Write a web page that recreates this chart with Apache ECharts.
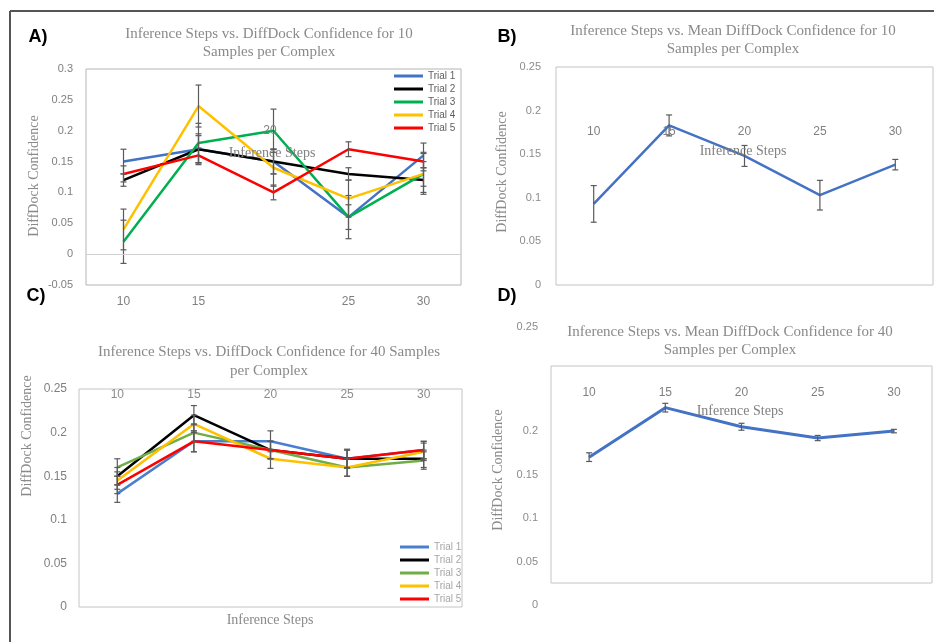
<!DOCTYPE html>
<html><head><meta charset="utf-8">
<script src="https://cdn.jsdelivr.net/npm/echarts@6/dist/echarts.min.js"></script>
<style>html,body{margin:0;padding:0;background:#fff}#c{width:934px;height:642px}</style>
</head><body><div id="c"></div>
<script>
// ---------- data ----------
const steps = ['10', '15', '20', '25', '30'];
const trialNames = ['Trial 1', 'Trial 2', 'Trial 3', 'Trial 4', 'Trial 5'];

// Panel A: 10 samples per complex, per trial
const aTrial1 = [0.15, 0.17, 0.15, 0.06, 0.16];
const aTrial2 = [0.12, 0.17, 0.15, 0.13, 0.12];
const aTrial3 = [0.02, 0.18, 0.20, 0.06, 0.13];
const aTrial4 = [0.04, 0.24, 0.14, 0.09, 0.13];
const aTrial5 = [0.13, 0.16, 0.10, 0.17, 0.15];
const aErr1 = [0.020, 0.022, 0.020, 0.020, 0.020];
const aErr2 = [0.010, 0.025, 0.020, 0.010, 0.020];
const aErr3 = [0.035, 0.032, 0.035, 0.035, 0.033];
const aErr4 = [0.033, 0.034, 0.030, 0.030, 0.020];
const aErr5 = [0.013, 0.012, 0.012, 0.012, 0.015];

// Panel B: mean, 10 samples per complex
const bMean = [0.093, 0.183, 0.148, 0.103, 0.138];
const bErr  = [0.021, 0.012, 0.012, 0.017, 0.006];

// Panel C: 40 samples per complex, per trial
const cTrial1 = [0.13, 0.19, 0.19, 0.17, 0.18];
const cTrial2 = [0.15, 0.22, 0.18, 0.17, 0.17];
const cTrial3 = [0.16, 0.20, 0.18, 0.16, 0.168];
const cTrial4 = [0.145, 0.21, 0.17, 0.16, 0.178];
const cTrial5 = [0.14, 0.19, 0.18, 0.17, 0.18];
const cErr1 = [0.010, 0.012, 0.012, 0.010, 0.010];
const cErr2 = [0.010, 0.011, 0.010, 0.010, 0.010];
const cErr3 = [0.010, 0.010, 0.010, 0.010, 0.010];
const cErr4 = [0.010, 0.010, 0.011, 0.010, 0.010];
const cErr5 = [0.010, 0.012, 0.010, 0.011, 0.010];

// Panel D: mean, 40 samples per complex
const dMean = [0.145, 0.202, 0.180, 0.167, 0.175];
const dErr  = [0.005, 0.005, 0.004, 0.003, 0.002];

// ---------- styling ----------
const colorsA = ['#4472C4', '#000000', '#00B050', '#FFC000', '#FF0000'];
const colorsC = ['#4a7fd0', '#000000', '#70AD47', '#FFC000', '#FF0000'];
const GRAY = '#7f7f7f';
const TITLE_GRAY = '#8a8a8a';
const SERIF = '"Liberation Serif", "DejaVu Serif", serif';
const SANS = '"Liberation Sans", Arial, sans-serif';

function lineSeries(name, data, gi, color, width) {
  return {
    type: 'line', name: name, data: data, xAxisIndex: gi, yAxisIndex: gi,
    symbol: 'none', z: 2, animation: false,
    lineStyle: { color: color, width: width }, itemStyle: { color: color }
  };
}
function renderErr(params, api) {
  const i = api.value(0);
  const top = api.coord([i, api.value(2)]);
  const bot = api.coord([i, api.value(1)]);
  const w = 3;
  const st = { stroke: '#5a5a5a', lineWidth: 1.2 };
  return {
    type: 'group', children: [
      { type: 'line', shape: { x1: top[0], y1: top[1], x2: bot[0], y2: bot[1] }, style: st },
      { type: 'line', shape: { x1: top[0] - w, y1: top[1], x2: top[0] + w, y2: top[1] }, style: st },
      { type: 'line', shape: { x1: bot[0] - w, y1: bot[1], x2: bot[0] + w, y2: bot[1] }, style: st }
    ]
  };
}
function errSeries(means, errs, gi) {
  const data = [];
  means.forEach(function (m, t) {
    m.forEach(function (v, i) { data.push([i, v - errs[t][i], v + errs[t][i]]); });
  });
  return {
    type: 'custom', xAxisIndex: gi, yAxisIndex: gi, z: 3, silent: true, animation: false,
    renderItem: renderErr, encode: { x: 0, y: [1, 2] }, data: data
  };
}
function yAxisBase(gi, min, max, margin) {
  return {
    type: 'value', gridIndex: gi, min: min, max: max, interval: 0.05,
    axisLine: { show: false }, axisTick: { show: false }, splitLine: { show: false },
    axisLabel: { color: GRAY, fontSize: 11, fontFamily: SANS, margin: margin }
  };
}
function xAxisBase(gi) {
  return {
    type: 'category', gridIndex: gi, data: steps, boundaryGap: true,
    axisLine: { show: false }, axisTick: { show: false }, splitLine: { show: false },
    axisLabel: { color: GRAY, fontSize: 12, fontFamily: SANS, interval: 0 }
  };
}
function legendFor(left, top, colors, textColor) {
  return {
    orient: 'vertical', left: left, top: top, padding: 0,
    itemWidth: 29, itemHeight: 3, itemGap: 2, icon: 'rect', selectedMode: false,
    textStyle: { fontSize: 10, lineHeight: 11, color: textColor, fontFamily: SANS },
    data: trialNames.map(function (n, i) { return { name: n, itemStyle: { color: colors[i] } }; })
  };
}
function txt(text, x, y, font, fill, extra) {
  const s = { text: text, x: 0, y: 0, font: font, fill: fill, align: 'center', verticalAlign: 'middle', textAlign: 'center', textVerticalAlign: 'middle' };
  if (extra && extra.lineHeight) s.lineHeight = extra.lineHeight;
  const el = { type: 'text', x: x, y: y, style: s, z: 10, silent: true };
  if (extra && extra.rotation) el.rotation = extra.rotation;
  return el;
}

// ---------- axes ----------
const xA = xAxisBase(0);
xA.axisLabel.margin = 11;
xA.axisLabel.formatter = function (v) { return v === '20' ? '' : v; };

const xB = xAxisBase(1);
xB.position = 'top'; xB.axisLabel.inside = true; xB.axisLabel.margin = 59;

const xC = xAxisBase(2);
xC.position = 'top'; xC.axisLabel.inside = true; xC.axisLabel.margin = 0;
xC.axisLabel.color = '#8c8c8c';

const xD = xAxisBase(3);
xD.position = 'top'; xD.axisLabel.inside = true; xD.axisLabel.margin = 21;

const yA = yAxisBase(0, -0.05, 0.3, 13);
const yB = yAxisBase(1, 0, 0.25, 15);
yB.axisLabel.color = '#8c8c8c';
const yC = yAxisBase(2, 0, 0.25, 12);
yC.axisLabel.fontSize = 12;
const yD = yAxisBase(3, 0, 0.25, 13);
yD.axisLabel.formatter = function (v) {
  const s = String(+v.toFixed(2));
  return v > 0.249 ? '{up|' + s + '}' : '{dn|' + s + '}';
};
yD.axisLabel.rich = {
  dn: { padding: [44, 0, 0, 0], color: '#8c8c8c', fontSize: 11, fontFamily: SANS },
  up: { padding: [0, 0, 78, 0], color: '#8c8c8c', fontSize: 11, fontFamily: SANS }
};

// ---------- series ----------
const aTrials = [aTrial1, aTrial2, aTrial3, aTrial4, aTrial5];
const aErrs = [aErr1, aErr2, aErr3, aErr4, aErr5];
const cTrials = [cTrial1, cTrial2, cTrial3, cTrial4, cTrial5];
const cErrs = [cErr1, cErr2, cErr3, cErr4, cErr5];

const series = [];
aTrials.forEach(function (d, i) { series.push(lineSeries(trialNames[i], d, 0, colorsA[i], 2.5)); });
series[0].markLine = {
  silent: true, symbol: 'none', animation: false, label: { show: false },
  lineStyle: { color: '#d0d0d0', width: 1, type: 'solid' }, data: [{ yAxis: 0 }]
};
series.push(errSeries(aTrials, aErrs, 0));
series.push(lineSeries('Mean 10', bMean, 1, '#4472C4', 2.5));
series.push(errSeries([bMean], [bErr], 1));
cTrials.forEach(function (d, i) { series.push(lineSeries(trialNames[i], d, 2, colorsC[i], 2.5)); });
series.push(errSeries(cTrials, cErrs, 2));
series.push(lineSeries('Mean 40', dMean, 3, '#4472C4', 3));
series.push(errSeries([dMean], [dErr], 3));

const titleFont = '15px ' + SERIF;
const nameFont = '14px ' + SERIF;
const labelFont = 'bold 18px ' + SANS;

const option = {
  animation: false,
  backgroundColor: '#fff',
  grid: [
    { left: 86, top: 69, width: 375, height: 216, show: true, borderColor: '#b4b4b4', borderWidth: 1 },
    { left: 556, top: 67, width: 377, height: 218, show: true, borderColor: '#c4c4c4', borderWidth: 1 },
    { left: 79, top: 389, width: 383, height: 218, show: true, borderColor: '#c4c4c4', borderWidth: 1 },
    { left: 551, top: 366, width: 381, height: 217, show: true, borderColor: '#c4c4c4', borderWidth: 1 }
  ],
  xAxis: [xA, xB, xC, xD],
  yAxis: [yA, yB, yC, yD],
  legend: [
    legendFor(394, 70.5, colorsA, '#606060'),
    legendFor(400, 541.5, colorsC, '#a6a6a6')
  ],
  series: series,
  graphic: [
    { type: 'line', shape: { x1: 10, y1: 11, x2: 934, y2: 11 }, style: { stroke: '#555', lineWidth: 2 }, silent: true },
    { type: 'line', shape: { x1: 10, y1: 11, x2: 10, y2: 642 }, style: { stroke: '#555', lineWidth: 2 }, silent: true },
    txt('A)', 38, 37, labelFont, '#000'),
    txt('B)', 507, 37, labelFont, '#000'),
    txt('C)', 36, 296, labelFont, '#000'),
    txt('D)', 507, 296, labelFont, '#000'),
    txt('Inference Steps vs. DiffDock Confidence for 10\nSamples per Complex', 269, 43, titleFont, TITLE_GRAY, { lineHeight: 18 }),
    txt('Inference Steps vs. Mean DiffDock Confidence for 10\nSamples per Complex', 733, 40, titleFont, TITLE_GRAY, { lineHeight: 18 }),
    txt('Inference Steps vs. DiffDock Confidence for 40 Samples\nper Complex', 269, 362, titleFont, TITLE_GRAY, { lineHeight: 19 }),
    txt('Inference Steps vs. Mean DiffDock Confidence for 40\nSamples per Complex', 730, 341, titleFont, TITLE_GRAY, { lineHeight: 18 }),
    txt('DiffDock Confidence', 34, 176, nameFont, TITLE_GRAY, { rotation: Math.PI / 2 }),
    txt('DiffDock Confidence', 502, 172, nameFont, TITLE_GRAY, { rotation: Math.PI / 2 }),
    txt('DiffDock Confidence', 27, 436, nameFont, TITLE_GRAY, { rotation: Math.PI / 2 }),
    txt('DiffDock Confidence', 498, 470, nameFont, TITLE_GRAY, { rotation: Math.PI / 2 }),
    txt('Inference Steps', 272, 153, nameFont, '#808080'),
    txt('Inference Steps', 743, 151, nameFont, '#808080'),
    txt('Inference Steps', 270, 620, nameFont, TITLE_GRAY),
    txt('Inference Steps', 740, 411, nameFont, '#808080'),
    txt('20', 270, 131, '12px ' + SANS, GRAY)
  ]
};

const chart = echarts.init(document.getElementById('c'), null, { renderer: 'canvas' });
chart.setOption(option);
</script>
</body></html>
